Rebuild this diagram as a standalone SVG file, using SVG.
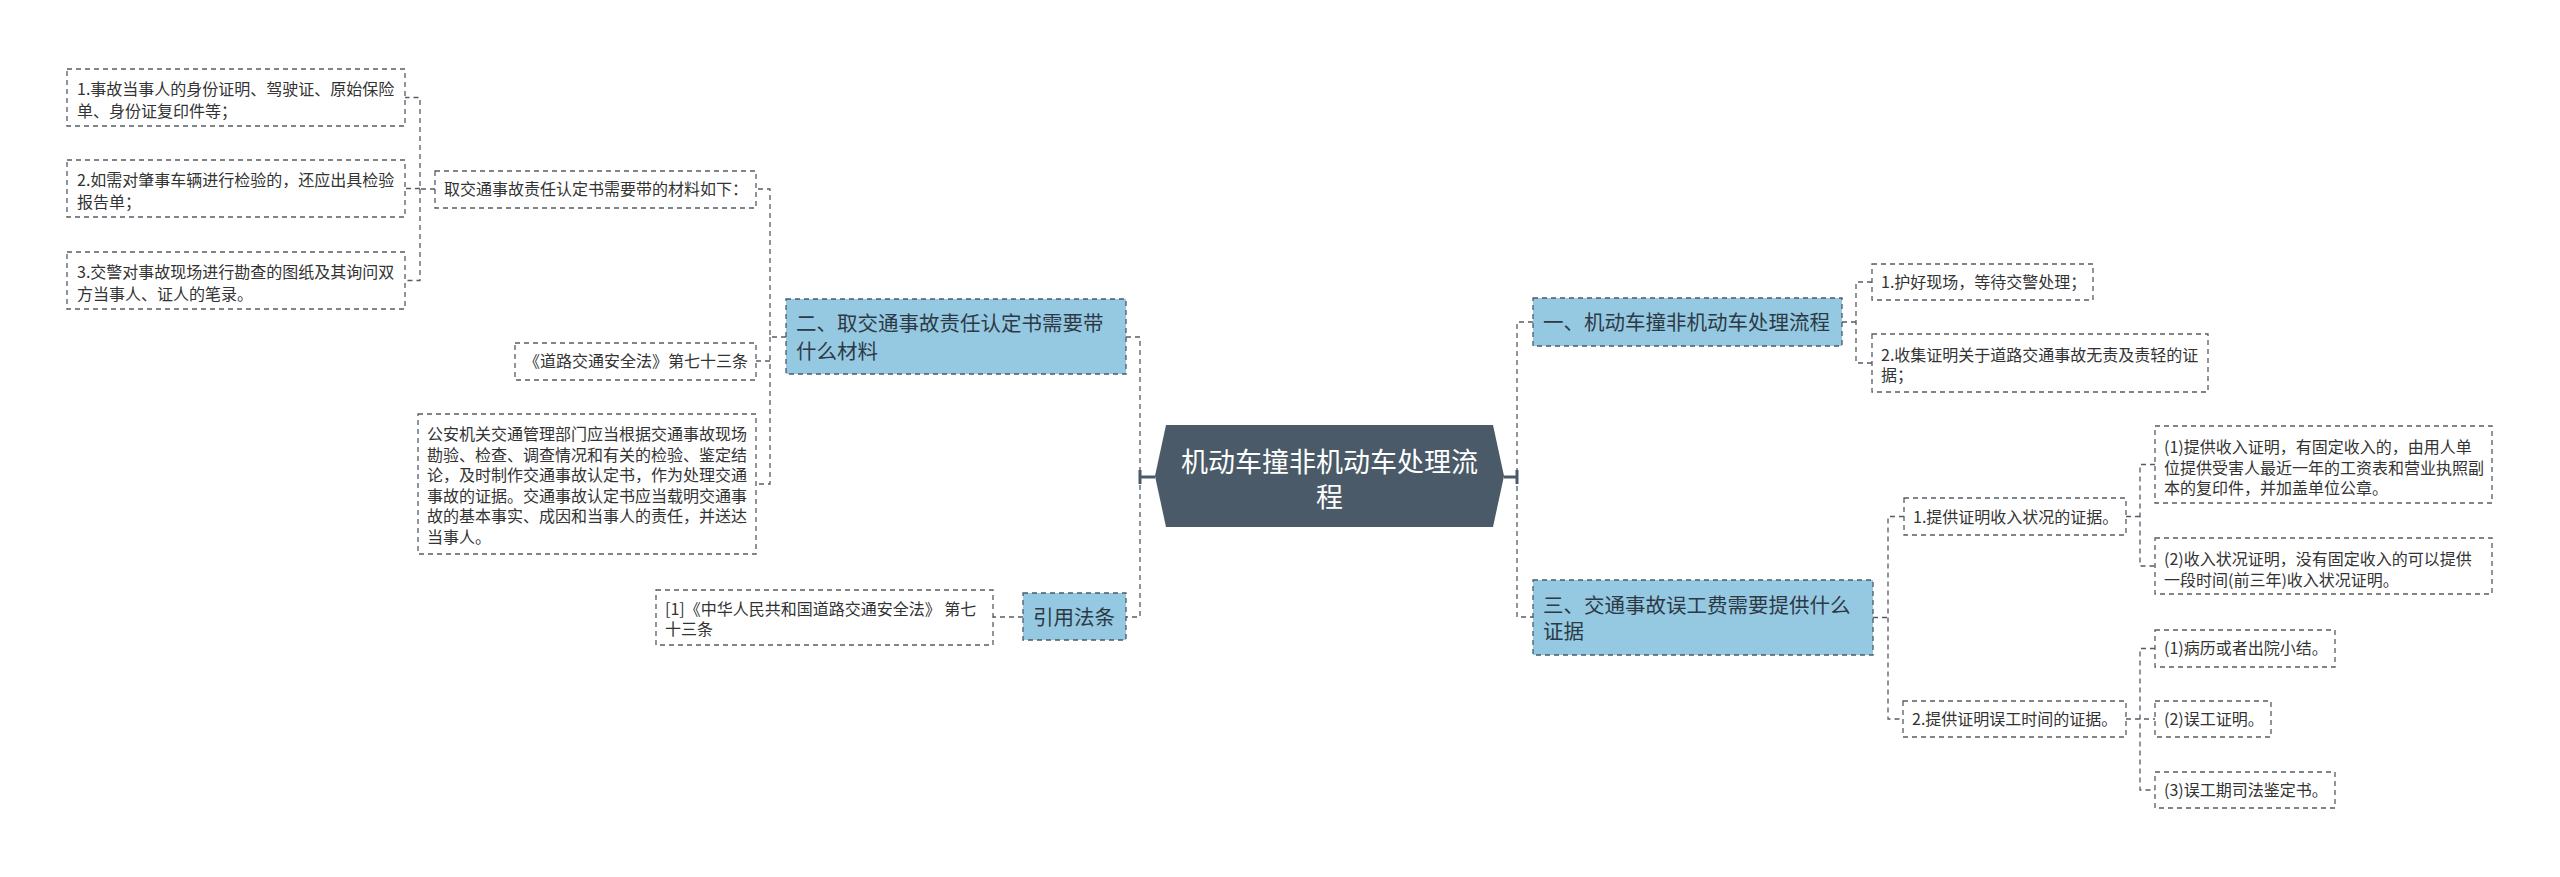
<svg xmlns="http://www.w3.org/2000/svg" width="2560" height="877" viewBox="0 0 2560 877">
<style>
.box{fill:#ffffff;stroke:#555c66;stroke-width:1.3;stroke-dasharray:5 4}
.blue{fill:#95c9e2;stroke:#4a5a68;stroke-width:1.3;stroke-dasharray:5 4}
.t{font-family:"Noto Sans CJK SC","Noto Sans",sans-serif;font-size:16px;fill:#333333}
.tb{font-family:"Noto Sans CJK SC","Noto Sans",sans-serif;font-size:20.5px;fill:#2d3a46}
.tc{font-family:"Noto Sans CJK SC","Noto Sans",sans-serif;font-size:27px;fill:#ffffff;text-anchor:middle}
.c{fill:none;stroke:#555c66;stroke-width:1.3;stroke-dasharray:5 4}
.s{fill:none;stroke:#4a5a68;stroke-width:3}
</style>
<rect width="2560" height="877" fill="#ffffff"/>
<g id="connectors">
<path class="c" d="M435,189 H420 V97.5 H405 M420,189 V280.5 H405 M420,188.5 H405"/>
<path class="c" d="M786,337 H770 V189 H756 M770,337 V484 H756 M770,361 H756"/>
<path class="c" d="M1023,617 H993"/>
<path class="c" d="M1126,337 H1140 V617 H1126"/>
<path class="s" d="M1140,477 H1155 M1140,470 V484"/>
<path class="c" d="M1533,322 H1517 V617 H1533"/>
<path class="s" d="M1504,477 H1517 M1517,470 V484"/>
<path class="c" d="M1842,322 H1856 M1872,282 H1856 V363 H1872"/>
<path class="c" d="M1873,617.5 H1888 M1904,516.5 H1888 V719 H1903"/>
<path class="c" d="M2126,516.5 H2140 M2155,464.5 H2140 V566 H2155"/>
<path class="c" d="M2126,719 H2155 M2155,648.5 H2140 V790 H2155"/>
</g>
<g id="center">
<polygon points="1155,476 1166,425 1493,425 1504,476 1493,527 1166,527" fill="#4a5a68"/>
<text class="tc" x="1329.5" y="472">机动车撞非机动车处理流</text>
<text class="tc" x="1329.5" y="507">程</text>
</g>
<g id="n-er">
<rect class="blue" x="786" y="299" width="340" height="75"/>
<text class="tb" x="796" y="331">二、取交通事故责任认定书需要带</text>
<text class="tb" x="796" y="359">什么材料</text>
</g>
<g id="n-qu">
<rect class="box" x="435" y="171" width="321" height="37"/>
<text class="t" x="444" y="195">取交通事故责任认定书需要带的材料如下：</text>
</g>
<g id="n-q1">
<rect class="box" x="67" y="69" width="338" height="57"/>
<text class="t" x="77" y="95">1.事故当事人的身份证明、驾驶证、原始保险</text>
<text class="t" x="77" y="117">单、身份证复印件等；</text>
</g>
<g id="n-q2">
<rect class="box" x="67" y="160" width="338" height="57"/>
<text class="t" x="77" y="186">2.如需对肇事车辆进行检验的，还应出具检验</text>
<text class="t" x="77" y="208">报告单；</text>
</g>
<g id="n-q3">
<rect class="box" x="67" y="252" width="338" height="57"/>
<text class="t" x="77" y="278">3.交警对事故现场进行勘查的图纸及其询问双</text>
<text class="t" x="77" y="300">方当事人、证人的笔录。</text>
</g>
<g id="n-law">
<rect class="box" x="515" y="343" width="241" height="37"/>
<text class="t" x="524" y="367">《道路交通安全法》第七十三条</text>
</g>
<g id="n-gongan">
<rect class="box" x="418" y="414" width="338" height="140"/>
<text class="t" x="427" y="440">公安机关交通管理部门应当根据交通事故现场</text>
<text class="t" x="427" y="460.5">勘验、检查、调查情况和有关的检验、鉴定结</text>
<text class="t" x="427" y="481">论，及时制作交通事故认定书，作为处理交通</text>
<text class="t" x="427" y="501.5">事故的证据。交通事故认定书应当载明交通事</text>
<text class="t" x="427" y="522">故的基本事实、成因和当事人的责任，并送达</text>
<text class="t" x="427" y="542.5">当事人。</text>
</g>
<g id="n-yinyong">
<rect class="blue" x="1023" y="593" width="103" height="47"/>
<text class="tb" x="1033" y="625">引用法条</text>
</g>
<g id="n-ref">
<rect class="box" x="656" y="590" width="337" height="55"/>
<text class="t" x="665" y="615">[1]《中华人民共和国道路交通安全法》 第七</text>
<text class="t" x="665" y="635">十三条</text>
</g>
<g id="n-yi">
<rect class="blue" x="1533" y="298" width="309" height="48"/>
<text class="tb" x="1543" y="330">一、机动车撞非机动车处理流程</text>
</g>
<g id="n-y1">
<rect class="box" x="1872" y="264" width="221" height="36"/>
<text class="t" x="1881" y="288">1.护好现场，等待交警处理；</text>
</g>
<g id="n-y2">
<rect class="box" x="1872" y="334" width="336" height="58"/>
<text class="t" x="1881" y="361">2.收集证明关于道路交通事故无责及责轻的证</text>
<text class="t" x="1881" y="381">据；</text>
</g>
<g id="n-san">
<rect class="blue" x="1533" y="580" width="340" height="75"/>
<text class="tb" x="1543" y="613">三、交通事故误工费需要提供什么</text>
<text class="tb" x="1543" y="639">证据</text>
</g>
<g id="n-s1">
<rect class="box" x="1904" y="498" width="222" height="37"/>
<text class="t" x="1913" y="523">1.提供证明收入状况的证据。</text>
</g>
<g id="n-s1a">
<rect class="box" x="2155" y="426" width="337" height="77"/>
<text class="t" x="2164" y="453">(1)提供收入证明，有固定收入的，由用人单</text>
<text class="t" x="2164" y="473.5">位提供受害人最近一年的工资表和营业执照副</text>
<text class="t" x="2164" y="494">本的复印件，并加盖单位公章。</text>
</g>
<g id="n-s1b">
<rect class="box" x="2155" y="538" width="337" height="56"/>
<text class="t" x="2164" y="565">(2)收入状况证明，没有固定收入的可以提供</text>
<text class="t" x="2164" y="586">一段时间(前三年)收入状况证明。</text>
</g>
<g id="n-s2">
<rect class="box" x="1903" y="701" width="223" height="36"/>
<text class="t" x="1912" y="725">2.提供证明误工时间的证据。</text>
</g>
<g id="n-s2a">
<rect class="box" x="2155" y="630" width="180" height="37"/>
<text class="t" x="2164" y="654">(1)病历或者出院小结。</text>
</g>
<g id="n-s2b">
<rect class="box" x="2155" y="701" width="116" height="36"/>
<text class="t" x="2164" y="725">(2)误工证明。</text>
</g>
<g id="n-s2c">
<rect class="box" x="2155" y="772" width="180" height="36"/>
<text class="t" x="2164" y="796">(3)误工期司法鉴定书。</text>
</g>
</svg>
